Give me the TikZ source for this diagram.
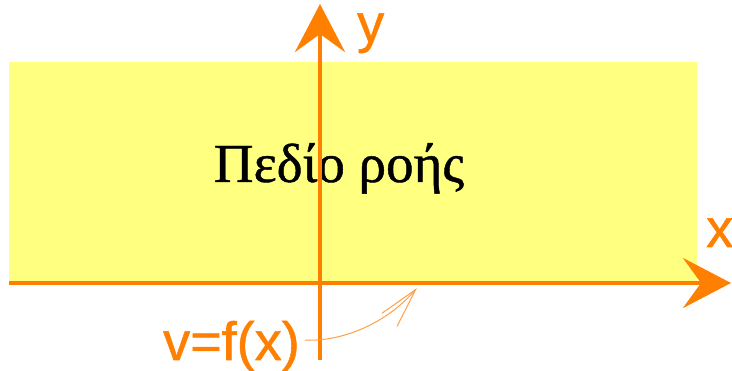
\documentclass[tikz,border=0pt]{standalone}
\usepackage{fontspec}
\setmainfont{Liberation Serif}[FakeBold=0.8]
\newfontfamily\axisfont{Liberation Sans}[FakeBold=1]
\usetikzlibrary{arrows.meta}
\definecolor{FlowOrange}{RGB}{255,128,0}
\definecolor{FlowYellow}{RGB}{255,255,128}
\definecolor{FlowThin}{RGB}{255,160,70}
\tikzset{
  flow/field/.style={fill=FlowYellow, draw=none},
  flow/axis/.style={-{Stealth[length=48pt,width=50pt,inset=18pt]}, line width=4.5pt, draw=FlowOrange},
  flow/thin/.style={-{Straight Barb[length=40pt,width=20pt]}, line width=1pt, draw=FlowThin},
  flow/label/.style={font=\axisfont\fontsize{54}{54}\selectfont, text=FlowOrange, inner sep=0pt},
  flow/title/.style={font=\fontsize{55}{55}\selectfont, text=black, inner sep=0pt}
}
\begin{document}
\begin{tikzpicture}[x=1pt,y=-1pt]
  \useasboundingbox (0,0) rectangle (732,371);
  % flow field
  \path[flow/field] (9,62) rectangle (697,281);
  \node[flow/title, anchor=base] (field) at (339,182) {Πεδίο ροής};
  % axes
  \coordinate (xstart) at (9,283);
  \coordinate (xend) at (731,283);
  \coordinate (ystart) at (320,360);
  \coordinate (yend) at (320,4);
  \draw[flow/axis] (xstart) -- (xend);
  \draw[flow/axis] (ystart) -- (yend);
  \node[flow/label, anchor=base west] (ylab) at (357,42) {y};
  \node[flow/label, anchor=base west] (xlab) at (706,247) {x};
  % velocity profile label
  \node[flow/label, anchor=base west] (vf) at (163,360) {v=f(x)};
  \coordinate (wall) at (417,288);
  \draw[flow/thin] ([xshift=5pt,yshift=6pt]vf.east) .. controls (340,342) and (385,325) .. (wall);
\end{tikzpicture}
\end{document}
